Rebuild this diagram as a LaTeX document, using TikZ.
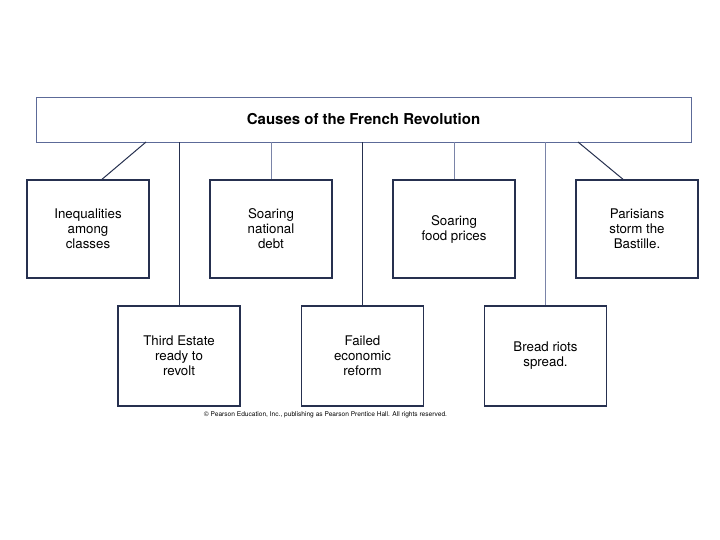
\documentclass[tikz,border=0pt]{standalone}
\usepackage{fontspec}
\setmainfont{TeX Gyre Heros}
\definecolor{navy}{HTML}{26304F}
\definecolor{steel}{HTML}{5C6A98}
\definecolor{lightln}{HTML}{7A84A8}
\tikzset{
  cause/.style={draw=navy, line width=1.4pt, minimum width=122pt, minimum height=98pt,
    align=center, font=\fontsize{13.3}{15}\selectfont, inner sep=0pt},
  link/.style={draw=navy, line width=1pt},
  lightlink/.style={draw=lightln, line width=1pt}
}
\begin{document}
\begin{tikzpicture}[x=1pt,y=-1pt]
\useasboundingbox[fill=white] (0,0) rectangle (720,540);
\node[draw=steel, line width=0.9pt, minimum width=655pt, minimum height=45pt, inner sep=0pt,
  font=\fontsize{15}{18}\selectfont\bfseries] (title) at (363.5,119.5) {Causes of the French Revolution};
\node[cause] (b1) at (88,229) {Inequalities\\among\\classes};
\node[cause] (b2) at (271,229) {Soaring\\national\\debt};
\node[cause] (b3) at (454,229) {Soaring\\food prices};
\node[cause] (b4) at (637,229) {Parisians\\storm the\\Bastille.};
\node[cause, minimum height=100pt] (b5) at (179,356) {Third Estate\\ready to\\revolt};
\node[cause, minimum height=100pt] (b6) at (362.5,356) {Failed\\economic\\reform};
\node[cause, minimum height=100pt] (b7) at (545.5,356) {Bread riots\\spread.};
\coordinate (t1) at (146,142);
\coordinate (t4) at (578,142);
\draw[link] (t1) -- (b1.north -| 102,0);
\draw[link] (t4) -- (b4.north -| 623,0);
\draw[link] (b5.north |- title.south) -- (b5.north);
\draw[lightlink] (b2.north |- title.south) -- (b2.north);
\draw[link] (b6.north |- title.south) -- (b6.north);
\draw[lightlink] (b3.north |- title.south) -- (b3.north);
\draw[lightlink] (b7.north |- title.south) -- (b7.north);
\node[font=\fontsize{6.6}{8}\selectfont, inner sep=0pt] (copy) at (325.5,415)
  {\textcopyright\ Pearson Education, Inc., publishing as Pearson Prentice Hall. All rights reserved.};
\end{tikzpicture}
\end{document}
